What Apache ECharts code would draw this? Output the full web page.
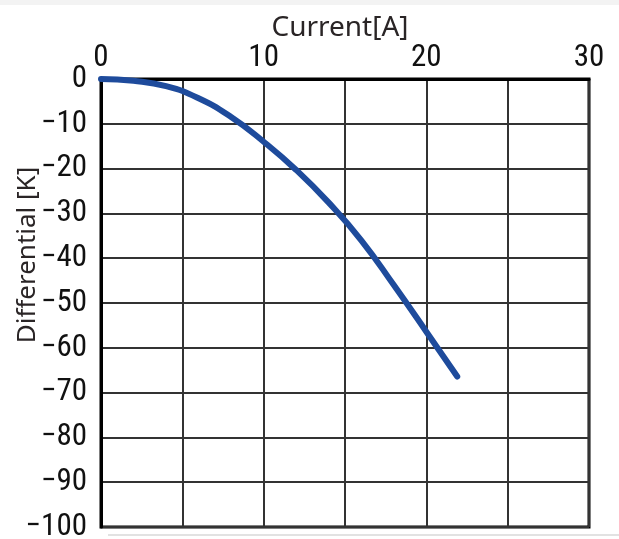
<!DOCTYPE html>
<html>
<head>
<meta charset="utf-8">
<script src="https://cdn.jsdelivr.net/npm/echarts@6/dist/echarts.min.js"></script>
<style>
html,body{margin:0;padding:0;background:#fff;}
#chart{width:619px;height:539px;}
</style>
</head>
<body>
<div id="chart"></div>
<script>
// Data
const currentA = [0, 2, 4, 6, 8, 10, 12, 14, 16, 18, 20, 21.9];
const differentialK = [0, -0.4, -1.6, -4.3, -8.5, -14, -20.3, -27.6, -36, -46, -56.4, -66.4];
const xTickLabels = [0, 10, 20, 30];
const xName = 'Current[A]';
const yName = 'Differential [K]';

const chart = echarts.init(document.getElementById('chart'));
const tickFont = '"Roboto Condensed", "DejaVu Sans Condensed", sans-serif';
const nameFont = '"Noto Sans", "Open Sans", sans-serif';

const points = currentA.map((x, i) => [x, differentialK[i]]);

chart.setOption({
  animation: false,
  backgroundColor: '#ffffff',
  graphic: [
    { type: 'rect', left: 0, top: 0, shape: { width: 619, height: 5 }, style: { fill: '#f3f3f3' }, silent: true },
    { type: 'rect', left: 108, top: 534, shape: { width: 511, height: 2 }, style: { fill: '#e2e2e2' }, silent: true }
  ],
  grid: {
    left: 101, right: 30, top: 79, bottom: 12,
    containLabel: false, outerBoundsMode: 'none',
    show: true, borderColor: '#000', borderWidth: 3, backgroundColor: 'transparent'
  },
  xAxis: {
    type: 'value', position: 'top', min: 0, max: 30, interval: 5,
    name: xName, nameLocation: 'middle', nameGap: 37, nameMoveOverlap: false,
    nameTextStyle: { fontFamily: nameFont, fontSize: 28, color: '#2a2526', padding: [0, 10, 0, 0] },
    axisLine: { show: true, lineStyle: { color: '#000', width: 3 } },
    axisTick: { show: false },
    axisLabel: {
      margin: 5, fontFamily: tickFont, fontSize: 31, color: '#111',
      formatter: v => (xTickLabels.indexOf(v) >= 0 ? String(v) : '')
    },
    splitLine: { show: true, lineStyle: { color: '#333', width: 2 } }
  },
  yAxis: {
    type: 'value', min: -100, max: 0, interval: 10,
    name: yName, nameLocation: 'middle', nameGap: 60, nameRotate: 90, nameMoveOverlap: false,
    nameTextStyle: { fontFamily: nameFont, fontSize: 26, color: '#2a2526', padding: [0, 0, 0, 96] },
    axisLine: { show: true, lineStyle: { color: '#000', width: 3 } },
    axisTick: { show: false },
    axisLabel: {
      margin: 14, fontFamily: tickFont, fontSize: 31, color: '#111',
      formatter: v => String(v).replace('-', '\u2212')
    },
    splitLine: { show: true, lineStyle: { color: '#333', width: 2 } }
  },
  series: [{
    type: 'line', data: points, smooth: true,
    showSymbol: false, clip: false,
    lineStyle: { color: '#1e4b9c', width: 6, cap: 'round', join: 'round' }
  }]
});
</script>
</body>
</html>
